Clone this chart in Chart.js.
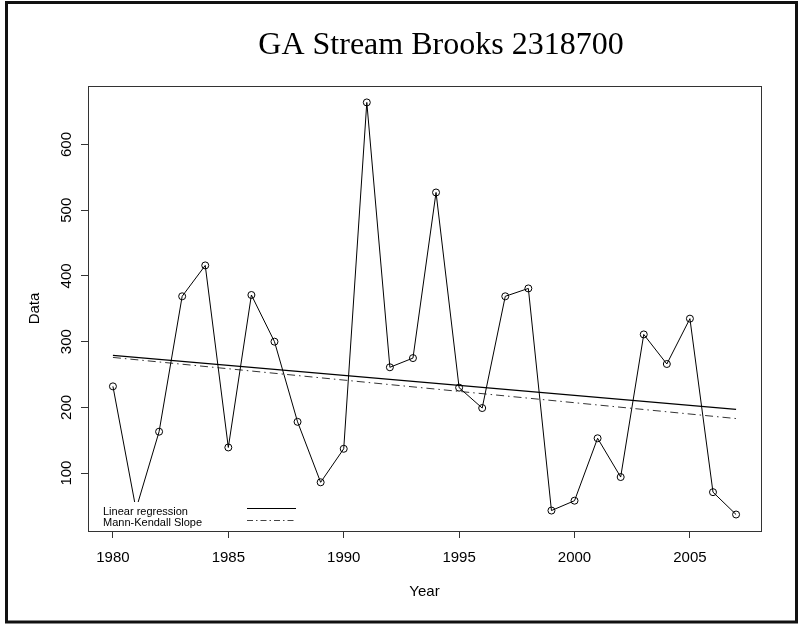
<!DOCTYPE html>
<html>
<head>
<meta charset="utf-8">
<title>GA Stream Brooks 2318700</title>
<script src="https://cdn.jsdelivr.net/npm/chart.js@4.4.1/dist/chart.umd.min.js"></script>
<style>
  body { margin: 0; background: #fff; }
  #wrap { width: 799px; height: 625px; }
</style>
</head>
<body>
<div id="wrap"><canvas id="chart" width="799" height="625"></canvas></div>
<script>
// values
const years = [1980, 1981, 1982, 1983, 1984, 1985, 1986, 1987, 1988, 1989,
               1990, 1991, 1992, 1993, 1994, 1995, 1996, 1997, 1998, 1999,
               2000, 2001, 2002, 2003, 2004, 2005, 2006, 2007];
const flows = [232, 45, 163, 369, 416, 139, 371, 300, 178, 86,
               137, 664, 261, 275, 527, 230, 199, 369, 381, 43,
               58, 153, 94, 311, 266, 335, 71, 37];
const trendYears = [1980, 2007];
const linearFit = [279, 197];
const mannKendall = [276, 183];
const xTicks = [1980, 1985, 1990, 1995, 2000, 2005];
const yTicks = [100, 200, 300, 400, 500, 600];

const titleText = 'GA Stream Brooks 2318700';
const legendLabels = ['Linear regression', 'Mann-Kendall Slope'];

const sans = "'Liberation Sans', Arial, sans-serif";
const tickFont = { family: sans, size: 15 };

const pairs = (xs, ys) => xs.map((x, i) => ({ x: x, y: ys[i] }));

// frame, title, plot box and legend drawn on the canvas
const decorations = {
  id: 'decorations',
  beforeDraw(chart) {
    const ctx = chart.ctx;
    ctx.save();
    ctx.fillStyle = '#fff';
    ctx.fillRect(0, 0, chart.width, chart.height);
    ctx.strokeStyle = '#111';
    ctx.lineWidth = 3;
    ctx.strokeRect(6.5, 2.5, 790, 619.5);
    ctx.fillStyle = '#000';
    ctx.font = "32px 'Liberation Serif', 'Times New Roman', serif";
    ctx.textAlign = 'center';
    ctx.textBaseline = 'alphabetic';
    ctx.fillText(titleText, 441, 54);
    ctx.restore();
  },
  afterDatasetsDraw(chart) {
    const ctx = chart.ctx;
    const a = chart.chartArea;
    ctx.save();
    // legend, white background hides the lines under it
    ctx.fillStyle = '#fff';
    ctx.fillRect(96, 502, 210, a.bottom - 502);
    ctx.fillStyle = '#000';
    ctx.font = '11px ' + sans;
    ctx.textAlign = 'left';
    ctx.fillText(legendLabels[0], 103, 515);
    ctx.fillText(legendLabels[1], 103, 526);
    ctx.strokeStyle = '#000';
    ctx.lineWidth = 1;
    ctx.beginPath();
    ctx.moveTo(247, 508.5);
    ctx.lineTo(296, 508.5);
    ctx.stroke();
    ctx.strokeStyle = '#444';
    ctx.setLineDash([6, 3, 1.5, 3]);
    ctx.beginPath();
    ctx.moveTo(247, 520.5);
    ctx.lineTo(296, 520.5);
    ctx.stroke();
    ctx.setLineDash([]);
    // plot box
    ctx.strokeStyle = '#333';
    ctx.strokeRect(a.left + 0.5, a.top + 0.5, a.right - a.left, a.bottom - a.top);
    ctx.restore();
  }
};

new Chart(document.getElementById('chart'), {
  type: 'line',
  data: {
    datasets: [
      {
        label: 'Data',
        data: pairs(years, flows),
        borderColor: '#000',
        borderWidth: 1,
        pointRadius: 3.5,
        pointBorderWidth: 1,
        pointBorderColor: '#000',
        pointBackgroundColor: 'rgba(0,0,0,0)',
        tension: 0
      },
      {
        label: legendLabels[0],
        data: pairs(trendYears, linearFit),
        borderColor: '#000',
        borderWidth: 1.2,
        pointRadius: 0
      },
      {
        label: legendLabels[1],
        data: pairs(trendYears, mannKendall),
        borderColor: '#333',
        borderWidth: 1,
        borderDash: [8, 4, 1.5, 4],
        pointRadius: 0
      }
    ]
  },
  options: {
    responsive: false,
    animation: false,
    layout: { padding: { left: 0, top: 86, right: 38, bottom: 0 } },
    plugins: { legend: { display: false }, title: { display: false }, tooltip: { enabled: false } },
    scales: {
      x: {
        type: 'linear',
        min: 1978.92,
        max: 2008.08,
        afterBuildTicks: s => { s.ticks = xTicks.map(v => ({ value: v })); },
        afterFit: s => { s.height = 94; },
        border: { display: false },
        grid: { drawOnChartArea: false, drawTicks: true, tickLength: 7, tickColor: '#333' },
        ticks: { font: tickFont, color: '#000', padding: 11, maxRotation: 0, callback: v => String(v) },
        title: { display: true, text: 'Year', font: tickFont, color: '#000', padding: { top: 0, bottom: 24 } }
      },
      y: {
        type: 'linear',
        min: 11.9,
        max: 689,
        afterBuildTicks: s => { s.ticks = yTicks.map(v => ({ value: v })); },
        afterFit: s => { s.width = 88; },
        border: { display: false },
        grid: { drawOnChartArea: false, drawTicks: true, tickLength: 7, tickColor: '#333' },
        ticks: { font: tickFont, color: '#000', padding: 2, minRotation: 90, maxRotation: 90, crossAlign: 'center' },
        title: { display: true, text: 'Data', font: tickFont, color: '#000', padding: { top: 26, bottom: 0 } }
      }
    }
  },
  plugins: [decorations]
});
</script>
</body>
</html>
